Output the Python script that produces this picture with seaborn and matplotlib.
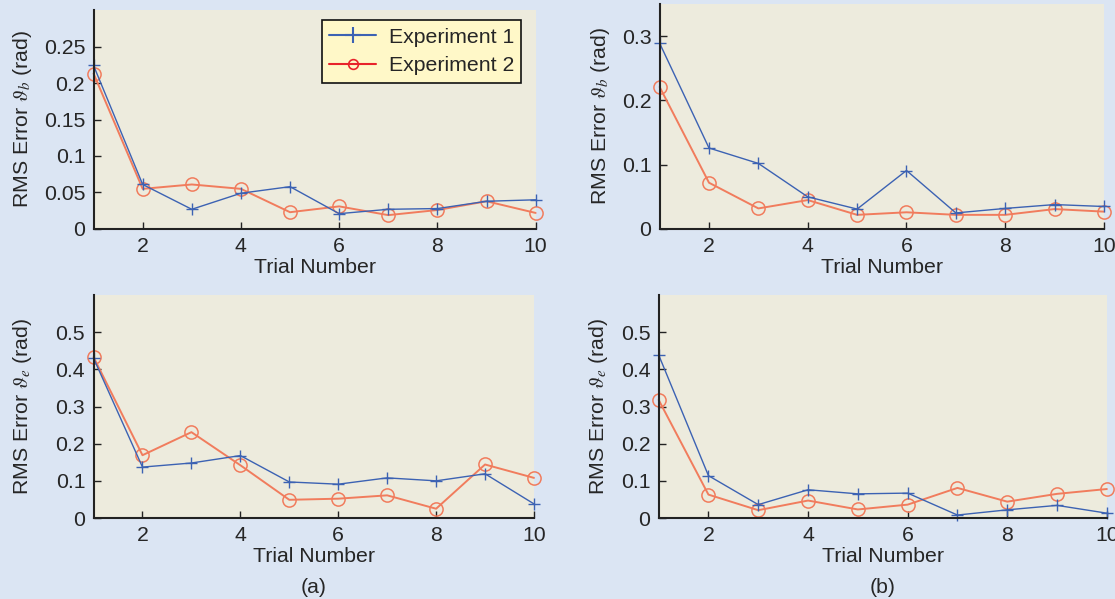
import numpy as np
import pandas as pd
import matplotlib
matplotlib.use("Agg")
import matplotlib.pyplot as plt
from matplotlib.lines import Line2D
import seaborn as sns

trials = [1, 2, 3, 4, 5, 6, 7, 8, 9, 10]

# (a) theta_b
a_b_exp1 = [0.224, 0.061, 0.027, 0.049, 0.058, 0.021, 0.027, 0.028, 0.038, 0.040]
a_b_exp2 = [0.213, 0.055, 0.061, 0.055, 0.023, 0.031, 0.019, 0.026, 0.038, 0.022]
# (b) theta_b
b_b_exp1 = [0.289, 0.126, 0.102, 0.050, 0.031, 0.091, 0.025, 0.032, 0.038, 0.035]
b_b_exp2 = [0.221, 0.072, 0.032, 0.045, 0.022, 0.026, 0.022, 0.022, 0.031, 0.027]
# (a) theta_e
a_e_exp1 = [0.430, 0.137, 0.148, 0.168, 0.097, 0.091, 0.108, 0.100, 0.119, 0.038]
a_e_exp2 = [0.433, 0.169, 0.231, 0.142, 0.049, 0.052, 0.061, 0.025, 0.144, 0.108]
# (b) theta_e
b_e_exp1 = [0.439, 0.114, 0.036, 0.076, 0.065, 0.067, 0.008, 0.022, 0.034, 0.013]
b_e_exp2 = [0.318, 0.063, 0.021, 0.047, 0.023, 0.036, 0.081, 0.044, 0.065, 0.078]

series_names = ["Experiment 1", "Experiment 2"]
x_ticks = [2, 4, 6, 8, 10]
captions = ["(a)", "(b)"]

sns.set_style("white")
plt.rcParams['font.family'] = ['Liberation Sans', 'DejaVu Sans']
plt.rcParams['mathtext.fontset'] = 'stix'

FIG_BG = "#dbe5f3"
AX_BG = "#edebdd"
BLUE = "#3c62b3"
ORANGE = "#f17c5d"
RED = "#e8232b"

fig = plt.figure(figsize=(11.15, 5.99), dpi=100, facecolor=FIG_BG)

panels = [
    ((0.0839, 0.6177, 0.3965, 0.3656), a_b_exp1, a_b_exp2, 0.30,
     [0, 0.05, 0.1, 0.15, 0.2, 0.25], ["0", "0.05", "0.1", "0.15", "0.2", "0.25"], "b", -0.135),
    ((0.5916, 0.6177, 0.3985, 0.3756), b_b_exp1, b_b_exp2, 0.35,
     [0, 0.1, 0.2, 0.3], ["0", "0.1", "0.2", "0.3"], "b", -0.107),
    ((0.0839, 0.1352, 0.3950, 0.3723), a_e_exp1, a_e_exp2, 0.60,
     [0, 0.1, 0.2, 0.3, 0.4, 0.5], ["0", "0.1", "0.2", "0.3", "0.4", "0.5"], "e", -0.135),
    ((0.5907, 0.1352, 0.4020, 0.3723), b_e_exp1, b_e_exp2, 0.60,
     [0, 0.1, 0.2, 0.3, 0.4, 0.5], ["0", "0.1", "0.2", "0.3", "0.4", "0.5"], "e", -0.108),
]

FS = 15.3
axes = []
for rect, e1, e2, ymax, yt, ytl, sub, ylx in panels:
    ax = fig.add_axes(rect)
    ax.set_facecolor(AX_BG)
    df = pd.DataFrame({"Trial": trials * 2,
                       "RMS": list(e1) + list(e2),
                       "Series": [series_names[0]] * len(trials) + [series_names[1]] * len(trials)})
    sns.lineplot(data=df[df.Series == series_names[1]], x="Trial", y="RMS", ax=ax,
                 color=ORANGE, lw=1.4, marker="o", ms=9.5, mfc="none", mec=ORANGE, mew=1.1,
                 legend=False, clip_on=False)
    sns.lineplot(data=df[df.Series == series_names[0]], x="Trial", y="RMS", ax=ax,
                 color=BLUE, lw=1.0, marker="+", ms=9, mec=BLUE, mew=1.0,
                 legend=False, clip_on=False)
    ax.set_xlim(1, 10)
    ax.set_ylim(0, ymax)
    ax.set_xticks(x_ticks)
    ax.set_xticklabels([str(t) for t in x_ticks], fontsize=FS)
    ax.set_yticks(yt)
    ax.set_yticklabels(ytl, fontsize=FS)
    ax.tick_params(direction="in", length=5, width=1.0, color="#222222",
                   left=True, bottom=True, pad=6)
    for s in ["top", "right"]:
        ax.spines[s].set_visible(False)
    for s in ["left", "bottom"]:
        ax.spines[s].set_color("#222222")
        ax.spines[s].set_linewidth(1.5)
    ax.set_xlabel("Trial Number", fontsize=FS, labelpad=1)
    ax.set_ylabel(r"RMS Error $\vartheta_%s$ (rad)" % sub, fontsize=FS)
    ax.yaxis.set_label_coords(ylx, 0.5)
    axes.append(ax)

handles = [Line2D([], [], color=BLUE, lw=1.5, marker="+", ms=11, mew=1.5),
           Line2D([], [], color=RED, lw=1.5, marker="o", ms=7, mfc="none", mec=RED, mew=1.2)]
leg = axes[0].legend(handles, series_names, loc="upper right", bbox_to_anchor=(0.968, 0.954),
                     fontsize=FS, frameon=True, fancybox=False, facecolor="#fff8c8",
                     edgecolor="#111111", framealpha=1, handlelength=2.2,
                     borderpad=0.35, labelspacing=0.45, handletextpad=0.6, borderaxespad=0)
leg.get_frame().set_linewidth(1.2)

for ax, cap in zip(axes[2:], captions):
    pos = ax.get_position()
    fig.text((pos.x0 + pos.x1) / 2, 0.02, cap, fontsize=FS, ha="center", va="center")

fig.savefig("out.png", dpi=100, facecolor=FIG_BG)
